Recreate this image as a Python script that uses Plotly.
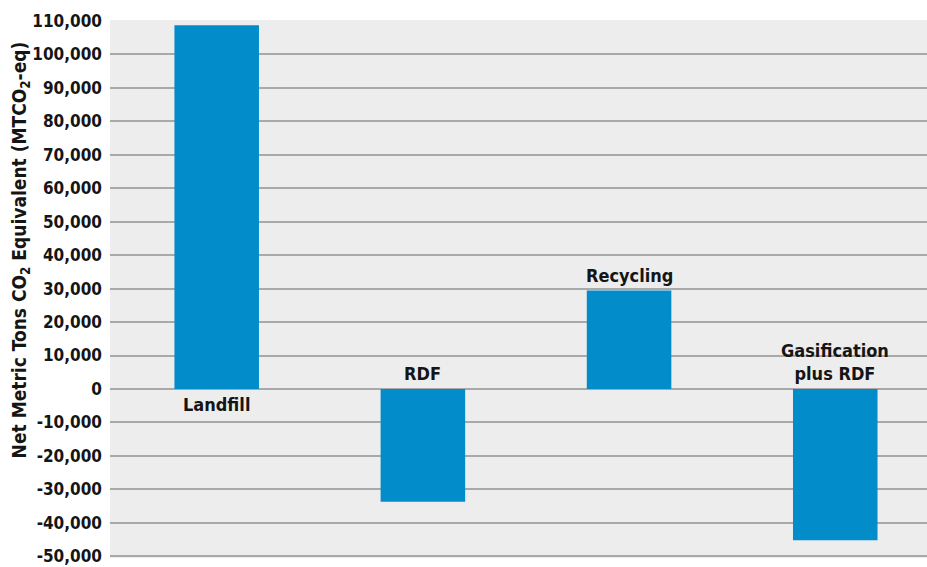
import plotly.graph_objects as go

# Net CO2-equivalent emissions by waste-management option
categories = ["Landfill", "RDF", "Recycling", "Gasification plus RDF"]
label_text = ["Landfill", "RDF", "Recycling", "Gasification<br>plus RDF"]
net_mtco2 = [108700, -33700, 29400, -45200]

tick_vals = list(range(-50000, 110001, 10000))
tick_text = [f"{v:,}" for v in tick_vals]

FONT = "DejaVu Sans Condensed, sans-serif"
INK = "#151515"
BAR = "#038cca"
GRID = "#a9a9a9"

fig = go.Figure(
    go.Bar(
        x=categories,
        y=net_mtco2,
        marker=dict(color=BAR, line=dict(width=0)),
        width=0.41,
        hoverinfo="x+y",
    )
)

# Category labels: below the zero line for Landfill, above it for the
# negative bars, and on top of the Recycling bar.
label_y = [0, 0, net_mtco2[2], 0]
label_anchor = ["top", "bottom", "bottom", "bottom"]
label_shift = [-3, 3, 3, 3]
for cat, txt, yy, anc, sh in zip(categories, label_text, label_y, label_anchor, label_shift):
    fig.add_annotation(
        x=cat, y=yy, text=f"<b>{txt}</b>", showarrow=False,
        yanchor=anc, yshift=sh, xanchor="center",
        font=dict(family=FONT, size=18, color=INK),
    )

# Rotated axis title, placed as an annotation so it can sit a bit high
fig.add_annotation(
    xref="paper", yref="paper", x=-0.110, y=0.572,
    text="<b>Net Metric Tons CO<sub>2</sub> Equivalent (MTCO<sub>2</sub>-eq)</b>",
    textangle=-90, showarrow=False, xanchor="center", yanchor="middle",
    font=dict(family=FONT, size=19, color=INK),
)

fig.update_layout(
    width=927, height=567,
    margin=dict(l=110, r=0, t=20, b=9),
    paper_bgcolor="white",
    plot_bgcolor="#eeeded",
    showlegend=False,
    xaxis=dict(
        range=[-0.5175, 3.445],
        showticklabels=False,
        showgrid=False,
        zeroline=False,
        showline=False,
        ticks="",
    ),
    yaxis=dict(
        range=[-50500, 110250],
        tickvals=tick_vals,
        ticktext=[f"<b>{t}</b>" for t in tick_text],
        showgrid=True,
        gridcolor=GRID,
        gridwidth=2,
        zeroline=True,
        zerolinecolor=GRID,
        zerolinewidth=2,
        showline=False,
        ticks="",
        ticklabelstandoff=7,
        ticklabeloverflow="allow",
        tickfont=dict(family=FONT, size=17, color=INK),
    ),
)

fig.write_html("out.html")
